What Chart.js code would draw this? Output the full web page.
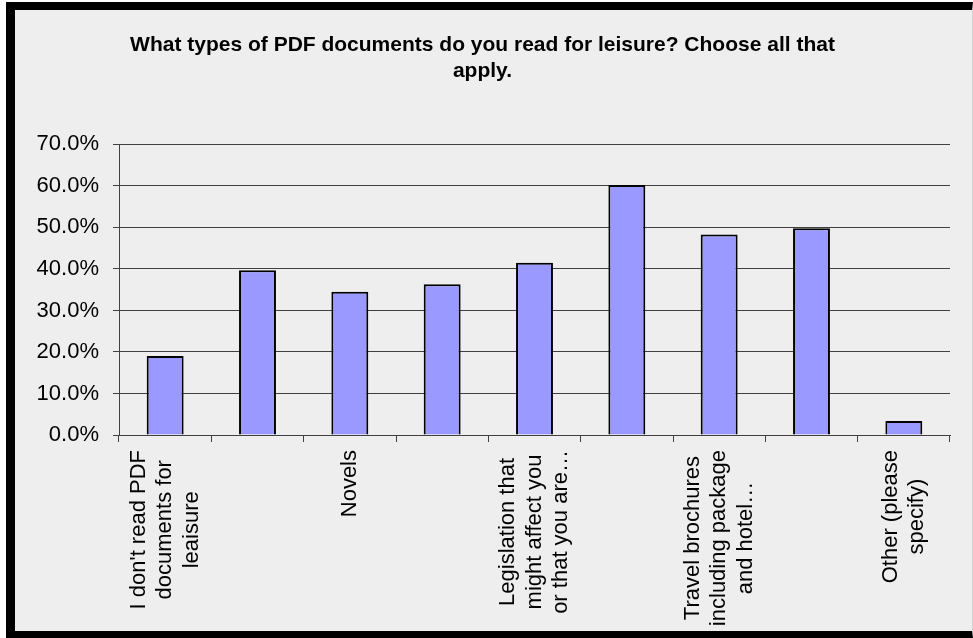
<!DOCTYPE html>
<html>
<head>
<meta charset="utf-8">
<script src="https://cdn.jsdelivr.net/npm/chart.js@4/dist/chart.umd.min.js"></script>
<style>
  html, body { margin: 0; padding: 0; background: #ffffff; }
  body { width: 973px; height: 638px; overflow: hidden; position: relative; }
  #frame {
    position: absolute; left: 6px; top: 2px;
    width: 957px; height: 621px;
    border-left: 9px solid #000; border-top: 8px solid #000;
    border-bottom: 7px solid #000; border-right: 1px solid #d2d2d2;
    background: #eeeeee;
  }
  canvas { display: block; }
</style>
</head>
<body>
<div id="frame"><canvas id="chart" width="957" height="621"></canvas></div>
<script>
// Survey question and answer options (multi-line category names, empty where no label is printed)
const titleLines = ['What types of PDF documents do you read for leisure? Choose all that', 'apply.'];
const categoryLines = [
  ["I don't read PDF", 'documents for', 'leaisure'],
  [],
  ['Novels'],
  [],
  ['Legislation that', 'might affect you', 'or that you are\u2026'],
  [],
  ['Travel brochures', 'including package', 'and hotel\u2026'],
  [],
  ['Other (please', 'specify)']
];
// Share of respondents choosing each option, in percent
const responsePercent = [19.0, 39.7, 34.5, 36.3, 41.5, 60.2, 48.3, 49.8, 3.4];
// Value axis range
const axisMax = 70;
const axisStep = 10;

const FONT = '"Liberation Sans", Arial, Helvetica, sans-serif';
const LINE = '#404040';

// Draws the rotated, centred multi-line category names under the axis
const categoryLabels = {
  id: 'categoryLabels',
  afterDraw(chart) {
    const xs = chart.scales.x;
    const ctx = chart.ctx;
    const size = 22, lineH = 26.4;
    ctx.save();
    ctx.font = size + 'px ' + FONT;
    ctx.fillStyle = '#000';
    ctx.textAlign = 'center';
    ctx.textBaseline = 'middle';
    categoryLines.forEach((lines, i) => {
      if (!lines.length) return;
      const widest = Math.max(...lines.map(l => ctx.measureText(l).width));
      const cx = xs.getPixelForTick(i);
      const cy = xs.top + 15 + widest / 2;
      ctx.save();
      ctx.translate(cx, cy);
      ctx.rotate(-Math.PI / 2);
      lines.forEach((l, j) => {
        ctx.fillText(l, 0, (j - (lines.length - 1) / 2) * lineH);
      });
      ctx.restore();
    });
    ctx.restore();
  }
};

new Chart(document.getElementById('chart'), {
  type: 'bar',
  data: {
    labels: categoryLines.map(l => l.join(' ')),
    datasets: [{
      data: responsePercent,
      backgroundColor: '#9999ff',
      borderColor: '#000000',
      borderWidth: 2,
      barPercentage: 0.4,
      categoryPercentage: 1.0
    }]
  },
  options: {
    responsive: false,
    devicePixelRatio: 1,
    animation: false,
    layout: { padding: { left: 0, right: 22, top: 0, bottom: 0 } },
    plugins: {
      legend: { display: false },
      tooltip: { enabled: false },
      title: {
        display: true,
        text: titleLines,
        color: '#000',
        font: { family: FONT, size: 21, weight: 'bold', lineHeight: 1.2 },
        padding: { top: 23, bottom: 61 }
      }
    },
    scales: {
      x: {
        offset: true,
        grid: { display: true, drawOnChartArea: false, drawTicks: true, tickLength: 7, offset: true, color: LINE },
        border: { display: true, color: LINE, width: 1 },
        ticks: { display: false },
        afterFit: (s) => { s.height = 196; }
      },
      y: {
        min: 0,
        max: axisMax,
        grid: { color: LINE, lineWidth: 1, drawTicks: true, tickLength: 6 },
        border: { display: true, color: LINE, width: 1 },
        ticks: {
          stepSize: axisStep,
          padding: 14,
          color: '#000',
          font: { family: FONT, size: 22 },
          callback: (v) => v.toFixed(1) + '%'
        },
        afterFit: (s) => { s.width = 104; }
      }
    }
  },
  plugins: [categoryLabels]
});
</script>
</body>
</html>
